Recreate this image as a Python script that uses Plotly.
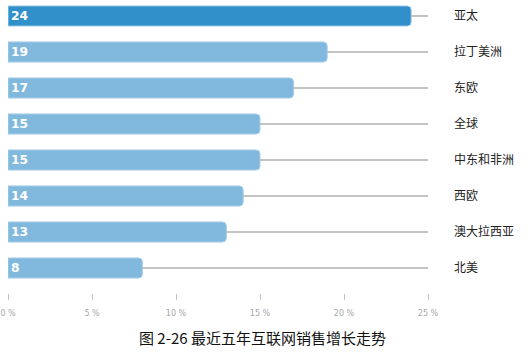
import plotly.graph_objects as go

categories = ["亚太", "拉丁美洲", "东欧", "全球", "中东和非洲", "西欧", "澳大拉西亚", "北美"]
values = [24, 19, 17, 15, 15, 14, 13, 8]
tick_vals = [0, 5, 10, 15, 20, 25]
tick_text = ["0 %", "5 %", "10 %", "15 %", "20 %", "25 %"]
axis_max = 25
title_text = "图 2-26 最近五年互联网销售增长走势"

pos = list(range(len(categories)))
colors = ["#3190c9"] + ["#80b9dd"] * (len(categories) - 1)

# gray guide lines from bar end to axis max
lx, ly = [], []
for p, v in zip(pos, values):
    lx += [v, axis_max, None]
    ly += [p, p, None]

fig = go.Figure()
fig.add_trace(go.Scatter(x=lx, y=ly, mode="lines",
                         line=dict(color="#b0b0b0", width=1.5),
                         hoverinfo="skip", showlegend=False))
fig.add_trace(go.Bar(
    x=values, y=pos, orientation="h", width=0.56,
    marker=dict(color=colors, line=dict(color="#a9d0ea", width=1)),
    text=["<b>%d</b>" % v for v in values], textposition="inside",
    insidetextanchor="start", textangle=0, constraintext="none",
    textfont=dict(color="white", size=13, family="DejaVu Sans"),
    showlegend=False,
))

fig.update_layout(
    width=528, height=355,
    margin=dict(l=8, r=100, t=0, b=62),
    paper_bgcolor="white", plot_bgcolor="white",
    barcornerradius=4,
    uniformtext=dict(mode=False),
    xaxis=dict(range=[0, axis_max], tickvals=tick_vals, ticktext=tick_text,
               showgrid=False, zeroline=False, showline=False,
               ticks="outside", ticklen=6, tickcolor="#c0c0c0", tickwidth=1,
               tickfont=dict(size=8, color="#a8a8a8", family="DejaVu Sans"),
               ticklabelstandoff=6),
    yaxis=dict(range=[7.694, -0.444], tickvals=pos, ticktext=categories,
               side="right", showgrid=False, zeroline=False, showline=False,
               ticklabelstandoff=25,
               tickfont=dict(size=12, color="#222222", family="Noto Sans CJK SC")),
    annotations=[dict(text=title_text, xref="paper", yref="paper",
                      x=(262 - 8) / 420, y=-(337 - 293) / 293, xanchor="center",
                      yanchor="middle", showarrow=False,
                      font=dict(size=15, color="#111111", family="Noto Sans CJK SC"))],
)

fig.write_html("out.html")
